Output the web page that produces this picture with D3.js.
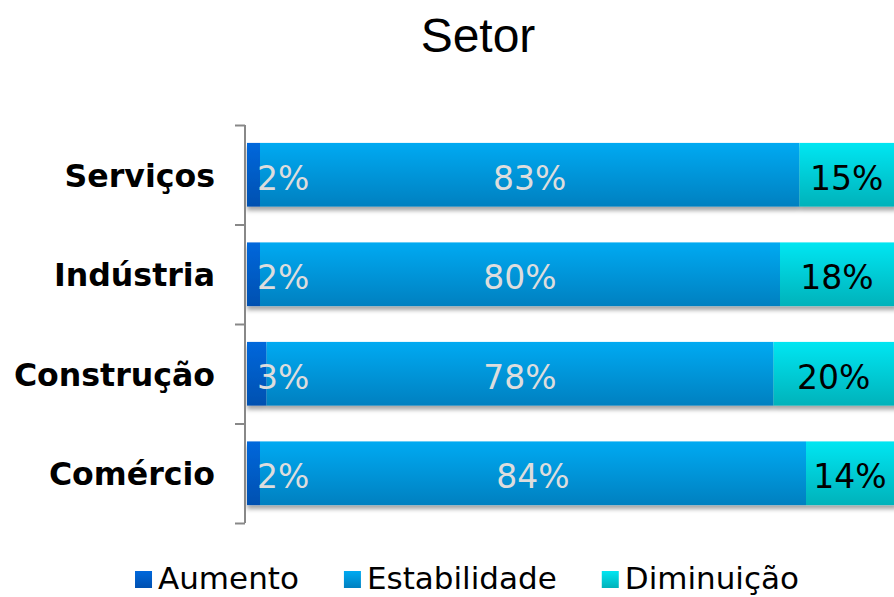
<!DOCTYPE html>
<html>
<head>
<meta charset="utf-8">
<title>Setor</title>
<script src="https://cdn.jsdelivr.net/npm/d3@7"></script>
<style>
  body { margin: 0; background: #fff; overflow: hidden; }
  .axis path, .axis line { stroke: #888; stroke-width: 2; }
  .cat { font-family: "DejaVu Sans", Verdana, sans-serif; font-weight: bold; font-size: 31.6px; }
  .lbl { font-family: "DejaVu Sans", Verdana, sans-serif; font-size: 33px; }
  .legend text { font-family: "DejaVu Sans", Verdana, sans-serif; font-size: 31px; }
</style>
</head>
<body>
<script>
// data, top to bottom
var categories = ['Serviços', 'Indústria', 'Construção', 'Comércio'];
var seriesNames = ['Aumento', 'Estabilidade', 'Diminuição'];
var aumento = [2, 2, 3, 2];
var estabilidade = [83, 80, 78, 84];
var diminuicao = [15, 18, 20, 14];

var colorsTop = ['#0068dc', '#00aaf2', '#00e6f2'];
var colorsBottom = ['#0050b0', '#0080c0', '#00b2ba'];
var labelColors = ['#dddddd', '#dddddd', '#000000'];

var W = 894, H = 597;
var margin = {left: 247, top: 125, bottom: 74};

var rows = categories.map(function(c, i) {
  return {cat: c, vals: [aumento[i], estabilidade[i], diminuicao[i]]};
});

var svg = d3.select('body').append('svg')
  .attr('width', W).attr('height', H);

var defs = svg.append('defs');
seriesNames.forEach(function(s, i) {
  var g = defs.append('linearGradient').attr('id', 'grad' + i)
    .attr('x1', 0).attr('y1', 0).attr('x2', 0).attr('y2', 1);
  g.append('stop').attr('offset', '0%').attr('stop-color', colorsTop[i]);
  g.append('stop').attr('offset', '100%').attr('stop-color', colorsBottom[i]);
});
defs.append('filter').attr('id', 'shadow')
  .attr('x', '-5%').attr('y', '-10%').attr('width', '110%').attr('height', '130%')
  .append('feDropShadow')
  .attr('dx', 0).attr('dy', 4).attr('stdDeviation', 2)
  .attr('flood-color', '#000').attr('flood-opacity', 0.35);

var x = d3.scaleLinear().domain([0, 100]).range([margin.left, 897]);
var y = d3.scaleBand().domain(categories)
  .range([margin.top, H - margin.bottom])
  .paddingInner(0.36).paddingOuter(0.18);

// title
svg.append('text')
  .attr('x', 478).attr('y', 52)
  .attr('text-anchor', 'middle')
  .style('font-family', '"Liberation Sans", Arial, sans-serif')
  .style('font-size', '48px')
  .text('Setor');

// bars
var barG = svg.selectAll('.row').data(rows).enter().append('g')
  .attr('class', 'row')
  .attr('filter', 'url(#shadow)');

barG.each(function(d) {
  var g = d3.select(this);
  var acc = 0;
  d.vals.forEach(function(v, i) {
    g.append('rect')
      .attr('x', x(acc))
      .attr('y', y(d.cat))
      .attr('width', x(acc + v) - x(acc))
      .attr('height', y.bandwidth())
      .attr('fill', 'url(#grad' + i + ')');
    acc += v;
  });
});

// data labels
rows.forEach(function(d) {
  var acc = 0;
  var cy = y(d.cat) + y.bandwidth() / 2;
  d.vals.forEach(function(v, i) {
    var x0 = x(acc), x1 = Math.min(x(acc + v), W);
    var t = svg.append('text')
      .attr('class', 'lbl')
      .attr('y', cy + 15)
      .attr('fill', labelColors[i])
      .text(v + '%');
    if (i == 0) {
      t.attr('x', x0 + 10).attr('text-anchor', 'start');
    } else {
      t.attr('x', (x0 + x1) / 2).attr('text-anchor', 'middle');
    }
    acc += v;
  });
});

// axis with ticks between bands
var yEdge = d3.scaleLinear().domain([0, categories.length])
  .range([margin.top, H - margin.bottom]);
svg.append('g')
  .attr('class', 'axis')
  .attr('transform', 'translate(' + (margin.left - 2) + ',0)')
  .call(d3.axisLeft(yEdge).tickValues(d3.range(categories.length + 1))
    .tickFormat('').tickSize(10).tickSizeOuter(0))
  .select('.domain').attr('d', 'M0,' + margin.top + 'V' + (H - margin.bottom));

// category labels
svg.selectAll('.cat').data(categories).enter().append('text')
  .attr('class', 'cat')
  .attr('x', 215)
  .attr('y', function(d) { return y(d) + y.bandwidth() / 2 + 12; })
  .attr('text-anchor', 'end')
  .text(function(d) { return d; });

// legend
var legend = svg.append('g').attr('class', 'legend');
var items = legend.selectAll('g').data(seriesNames).enter().append('g');
items.append('rect')
  .attr('width', 17).attr('height', 17)
  .attr('y', 571)
  .attr('fill', function(d, i) { return 'url(#grad' + i + ')'; });
items.append('text')
  .attr('x', 23).attr('y', 589)
  .text(function(d) { return d; });
var pos = 0;
items.each(function() {
  var w = this.querySelector('text').getComputedTextLength();
  d3.select(this).attr('transform', 'translate(' + pos + ',0)');
  pos += 23 + w + 45;
});
pos -= 45;
legend.attr('transform', 'translate(' + (467 - pos / 2) + ',0)');
</script>
</body>
</html>
